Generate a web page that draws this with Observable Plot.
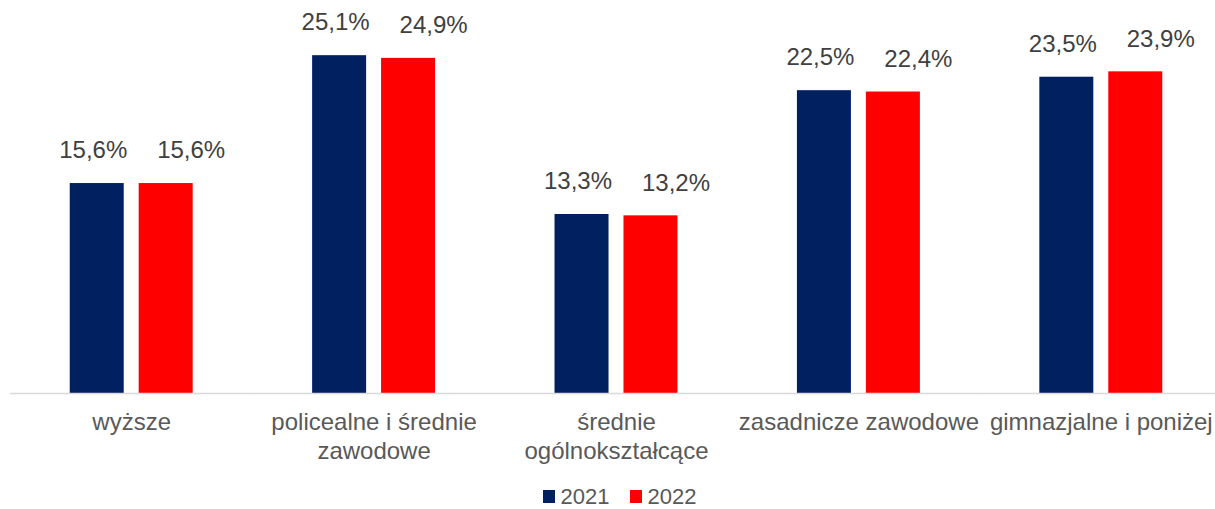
<!DOCTYPE html>
<html>
<head>
<meta charset="utf-8">
<script src="https://cdn.jsdelivr.net/npm/d3@7"></script>
<script src="https://cdn.jsdelivr.net/npm/@observablehq/plot@0.6"></script>
<style>
  html, body { margin: 0; padding: 0; background: #ffffff; }
  #wrap { position: relative; width: 1215px; height: 509px; font-family: Arial, "Liberation Sans", sans-serif; }
  #legend { position: absolute; left: 0; top: 484px; width: 1215px; height: 25px; display: flex; justify-content: center; align-items: center; padding-left: 24px; box-sizing: border-box; font-size: 22px; line-height: 25px; color: #595959; }
  .item { display: flex; align-items: center; margin: 0 10px; }
  .sw { width: 12px; height: 13px; margin-right: 6px; }
</style>
</head>
<body>
<div id="wrap"><div id="chart"></div><div id="legend"></div></div>
<script>
const categories = ["wyższe", "policealne i średnie zawodowe", "średnie ogólnokształcące", "zasadnicze zawodowe", "gimnazjalne i poniżej"];
const tickLabels = ["wyższe", "policealne i średnie\nzawodowe", "średnie\nogólnokształcące", "zasadnicze zawodowe", "gimnazjalne i poniżej"];
const years = ["2021", "2022"];
const values2021 = [15.6, 25.1, 13.3, 22.5, 23.5];
const values2022 = [15.6, 24.9, 13.2, 22.4, 23.9];
const colors = ["#002060", "#FF0000"];

const data = categories.flatMap((c, i) => [
  {category: c, year: years[0], value: values2021[i]},
  {category: c, year: years[1], value: values2022[i]}
]);

const fmt = v => v.toFixed(1).replace(".", ",") + "%";

const chart = Plot.plot({
  width: 1215,
  height: 470,
  marginTop: 0,
  marginBottom: 77,
  marginLeft: 10,
  marginRight: -7,
  style: {fontFamily: "Arial, 'Liberation Sans', sans-serif", fontSize: "24px", background: "white"},
  fx: {domain: categories, padding: 0, round: false, label: null},
  x: {domain: years, paddingInner: 0.217, paddingOuter: 0.866, round: false, axis: null},
  y: {domain: [0, 29.2], axis: null},
  color: {domain: years, range: colors},
  marks: [
    Plot.barY(data, {fx: "category", x: "year", y: "value", fill: "year"}),
    Plot.ruleY([0], {stroke: "#D9D9D9", strokeWidth: 1.5}),
    Plot.text(data.filter(d => d.year === years[0]), {fx: "category", x: "year", y: "value", text: d => fmt(d.value), dy: -33, dx: -4, fill: "#404040", fontSize: 24}),
    Plot.text(data.filter(d => d.year === years[1]), {fx: "category", x: "year", y: "value", text: d => fmt(d.value), dy: -33, dx: 25, fill: "#404040", fontSize: 24}),
    Plot.axisFx({anchor: "bottom", tickSize: 0, tickPadding: 17, fontSize: 24, color: "#595959", lineHeight: 1.17, label: null,
      tickFormat: c => tickLabels[categories.indexOf(c)]})
  ]
});
document.getElementById("chart").appendChild(chart);

const legend = document.getElementById("legend");
years.forEach((y, i) => {
  const it = document.createElement("div");
  it.className = "item";
  const sw = document.createElement("div");
  sw.className = "sw";
  sw.style.background = colors[i];
  const t = document.createElement("span");
  t.textContent = y;
  it.appendChild(sw);
  it.appendChild(t);
  legend.appendChild(it);
});
</script>
</body>
</html>
